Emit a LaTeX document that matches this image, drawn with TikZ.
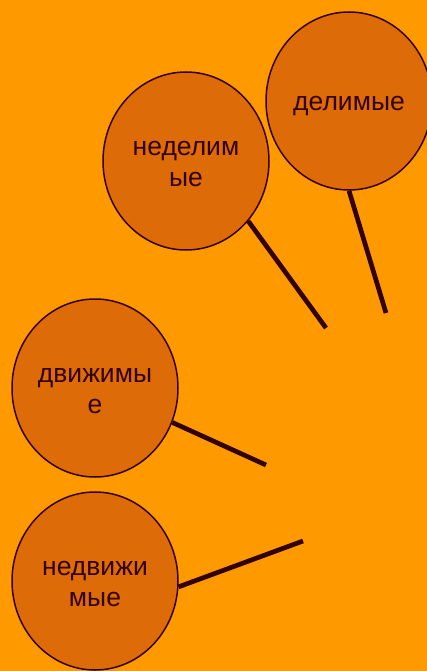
\documentclass[tikz,border=0pt]{standalone}
\usepackage{fontspec}
\setmainfont{Liberation Sans}
\usetikzlibrary{shapes.geometric}

\definecolor{bgorange}{RGB}{255,153,0}
\definecolor{ballfill}{RGB}{221,107,8}
\definecolor{darkbrown}{RGB}{51,0,0}

\tikzset{
  ball/.style={ellipse, draw=darkbrown, line width=1.5pt, fill=ballfill,
    minimum width=166pt, minimum height=178pt, inner sep=0pt,
    align=center, text=darkbrown, font=\fontsize{26.5}{31}\selectfont,
    execute at begin node=\rule{0pt}{24pt}},
  twoline/.style={execute at begin node=\rule{0pt}{52pt}},
  stick/.style={draw=darkbrown, line width=4.7pt}
}

\begin{document}
\begin{tikzpicture}[x=1pt,y=-1pt]
		% Background
		\fill[bgorange] (0,0) rectangle (427,671);
		\useasboundingbox (0,0) rectangle (427,671);

		% The balls
		\node[ball,twoline] (nedelimye) at (186,161) {неделим\\ые};
		\node[ball] (delimye) at (349,101) {делимые};
		\node[ball,twoline] (dvizhimye) at (95,388) {движимы\\е};
		\node[ball,twoline] (nedvizhimye) at (95,581) {недвижи\\мые};

		% Define the free ends of the sticks
		\coordinate (E1) at (326,328);
		\coordinate (E2) at (386,313);
		\coordinate (E3) at (266,465);
		\coordinate (E4) at (303,541);

		% Draw the sticks
		\foreach \ball/\ang/\tip in {nedelimye/-44.5/E1, delimye/-90/E2,
		  dvizhimye/-24/E3, nedvizhimye/-4/E4}
			\draw[stick] (\ball.\ang) -- (\tip);
	\end{tikzpicture}
\end{document}
